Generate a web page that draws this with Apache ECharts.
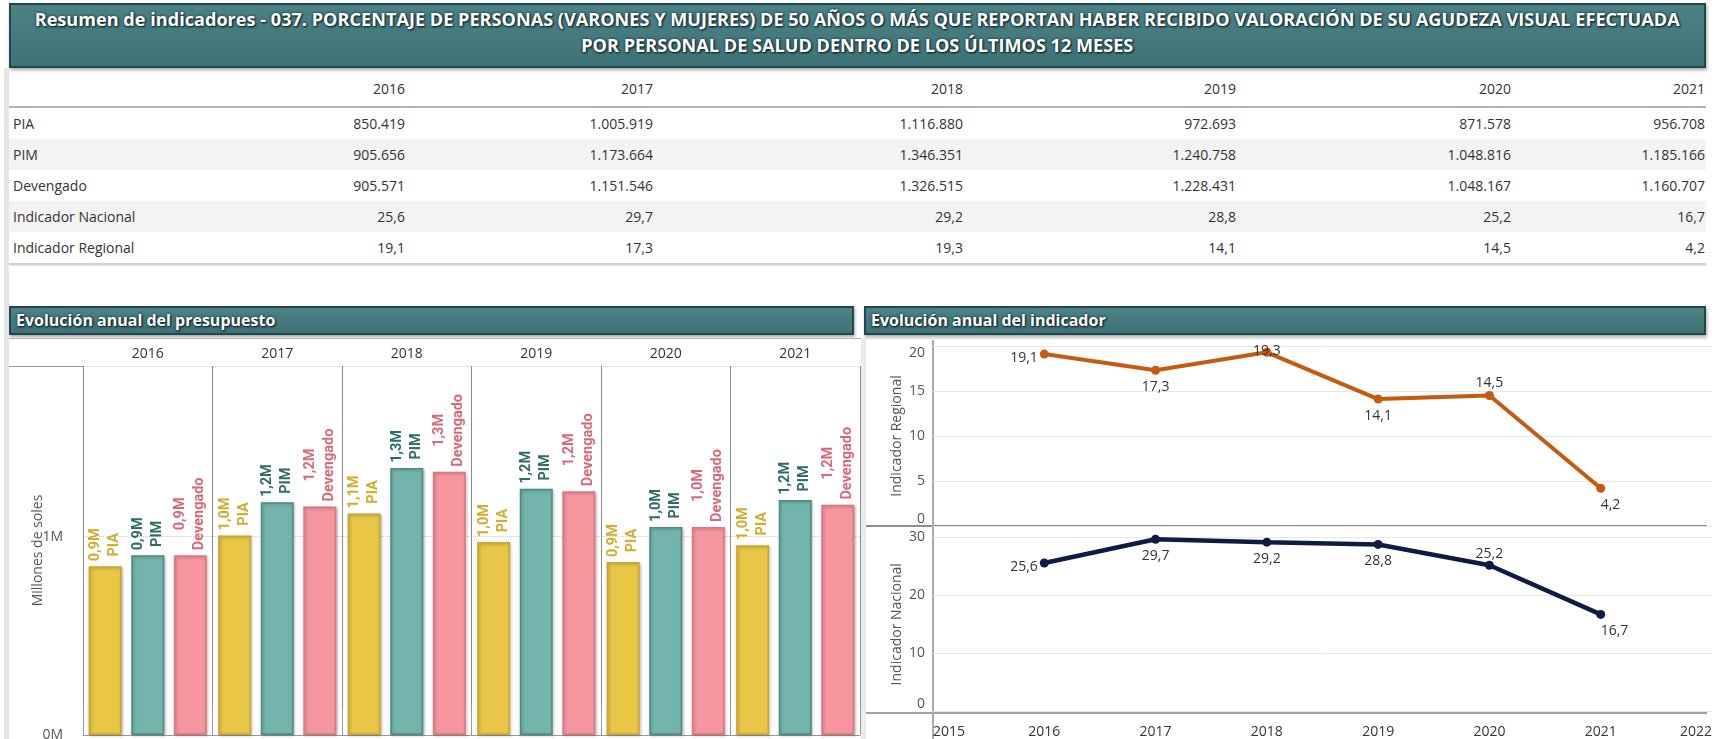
<!DOCTYPE html>
<html>
<head>
<meta charset="utf-8">
<script src="https://cdn.jsdelivr.net/npm/echarts@6/dist/echarts.min.js"></script>
<style>
html, body { margin: 0; padding: 0; width: 1715px; height: 739px; overflow: hidden; background: #fff; font-family: "Open Sans", sans-serif; color: #333; }
.banner { position: absolute; box-sizing: border-box; background: linear-gradient(#4c8186, #3d7277); border: 2px solid #22474a; box-shadow: 1px 2px 3px rgba(0,0,0,.35); color: #fff; font-family: "Open Sans", sans-serif; font-weight: bold; text-shadow: 1px 1px 2px #0b1d1f, 0 0 3px #15302f; }
#title { left: 9px; top: 3px; width: 1697px; height: 65px; text-align: center; font-size: 18px; line-height: 26px; padding-top: 1px; }
#title span { display: inline-block; white-space: nowrap; }
.sub { top: 306px; height: 29px; font-size: 16px; line-height: 24px; padding-left: 5px; }
#b1 { left: 9px; width: 845px; }
#b2 { left: 864px; width: 842px; }
.cell { position: absolute; font-size: 14px; white-space: nowrap; }
.row { position: absolute; left: 9px; width: 1697px; }
.line { position: absolute; }
#bar { position: absolute; left: 9px; top: 338px; width: 853px; height: 404px; }
#line { position: absolute; left: 866px; top: 338px; width: 849px; height: 401px; }
</style>
</head>
<body>
<div class="banner" id="title"><span id="t1">Resumen de indicadores - 037. PORCENTAJE DE PERSONAS (VARONES Y MUJERES) DE 50 AÑOS O MÁS QUE REPORTAN HABER RECIBIDO VALORACIÓN DE SU AGUDEZA VISUAL EFECTUADA</span><br><span id="t2">POR PERSONAL DE SALUD DENTRO DE LOS ÚLTIMOS 12 MESES</span></div>
<div id="table"></div>
<div class="banner sub" id="b1">Evolución anual del presupuesto</div>
<div class="banner sub" id="b2">Evolución anual del indicador</div>

<div class="line" style="left:4px;top:68px;width:5px;height:671px;background:#e6e6e6"></div>
<div class="line" style="left:861px;top:338px;width:5px;height:401px;background:#ececec"></div>
<div class="line" style="left:9px;top:338px;width:852px;height:1px;background:#b5b5b5"></div>
<div class="line" style="left:9px;top:366px;width:74px;height:1px;background:#9a9a9a"></div>
<div class="line" style="left:866px;top:338px;width:841px;height:1px;background:#dcdcdc"></div>
<div class="line" style="left:866px;top:525px;width:841px;height:2px;background:#8e8e8e"></div>
<div class="line" style="left:866px;top:712px;width:841px;height:2px;background:#a3a3a3"></div>
<div class="line" style="left:932px;top:340px;width:2px;height:399px;background:#ababab"></div>

<div id="bar"></div>
<div id="line"></div>

<script>
const years = ["2016", "2017", "2018", "2019", "2020", "2021"];
const pia = [850419, 1005919, 1116880, 972693, 871578, 956708];
const pim = [905656, 1173664, 1346351, 1240758, 1048816, 1185166];
const devengado = [905571, 1151546, 1326515, 1228431, 1048167, 1160707];
const indicadorNacional = [25.6, 29.7, 29.2, 28.8, 25.2, 16.7];
const indicadorRegional = [19.1, 17.3, 19.3, 14.1, 14.5, 4.2];

const LABEL_FONT = 'Roboto, "Open Sans", sans-serif';

const miles = v => String(v).replace(/\B(?=(\d{3})+(?!\d))/g, ".");
const decimal = v => v.toFixed(1).replace(".", ",");
const millones = v => (v / 1e6).toFixed(1).replace(".", ",") + "M";

// ---- titulo ajustado al ancho
const t1 = document.getElementById("t1");
const scale = 1504 * 1715 / 1568 / t1.getBoundingClientRect().width;
document.querySelectorAll("#title span").forEach(s => {
	s.style.transform = `scaleX(${scale})`;
});

// ---- tabla
const table = document.getElementById("table");
const colRight = [405, 653, 963, 1236, 1511, 1705];
const rows = [
	{ label: "", values: years, fmt: v => v },
	{ label: "PIA", values: pia, fmt: miles },
	{ label: "PIM", values: pim, fmt: miles },
	{ label: "Devengado", values: devengado, fmt: miles },
	{ label: "Indicador Nacional", values: indicadorNacional, fmt: decimal },
	{ label: "Indicador Regional", values: indicadorRegional, fmt: decimal }
];
rows.forEach((row, i) => {
	const top = i === 0 ? 72 : 108 + (i - 1) * 31;
	const h = i === 0 ? 34 : 31;
	const bg = document.createElement("div");
	bg.className = "row";
	bg.style.top = top + "px";
	bg.style.height = h + "px";
	bg.style.background = i === 2 || i === 4 ? "#f3f3f3" : "#fff";
	table.appendChild(bg);
	const addCell = (text, css) => {
		const c = document.createElement("div");
		c.className = "cell";
		c.textContent = text;
		c.style.top = top + "px";
		c.style.lineHeight = h + "px";
		Object.assign(c.style, css);
		table.appendChild(c);
	};
	if (row.label) addCell(row.label, { left: "13px" });
	row.values.forEach((v, j) => {
		addCell(row.fmt(v), { right: 1715 - colRight[j] + "px" });
	});
});
const hdrLine = document.createElement("div");
hdrLine.className = "line";
Object.assign(hdrLine.style, { left: "9px", top: "106px", width: "1697px", height: "2px", background: "#b3b3b3" });
table.appendChild(hdrLine);
const botLine = document.createElement("div");
botLine.className = "line";
Object.assign(botLine.style, { left: "9px", top: "263px", width: "1697px", height: "2px", background: "#cfcfcf", boxShadow: "0 1px 2px rgba(0,0,0,.12)" });
table.appendChild(botLine);

// ---- barras
const barStyles = [
	{ name: "PIA", data: pia, color: "#E9C646", border: "#C9A630", text: "#D3AC2E" },
	{ name: "PIM", data: pim, color: "#73B5AC", border: "#4A8C84", text: "#2C6D66" },
	{ name: "Devengado", data: devengado, color: "#F6969F", border: "#D97883", text: "#D9687A" }
];
const ctx = document.createElement("canvas").getContext("2d");
ctx.font = `bold 14.5px ${LABEL_FONT}`;
const textWidth = s => Math.ceil(ctx.measureText(s).width);

const barChart = echarts.init(document.getElementById("bar"));
barChart.setOption({
	animation: false,
	textStyle: { fontFamily: '"Open Sans", sans-serif' },
	grid: { left: 74, right: 2, top: 28, bottom: 2 },
	xAxis: {
		type: "category",
		data: years,
		position: "top",
		axisLine: { lineStyle: { color: "#9a9a9a" } },
		axisTick: { show: true, length: 28, lineStyle: { color: "#9a9a9a" } },
		axisLabel: { color: "#333", fontSize: 14, margin: 5 },
		splitLine: { show: true, lineStyle: { color: "#8a8a8a" } }
	},
	yAxis: {
		type: "value",
		min: 0,
		max: 1.86e6,
		interval: 1e6,
		axisLine: { show: false },
		axisTick: { show: false },
		axisLabel: { color: "#555", fontSize: 14, margin: 20, showMaxLabel: false, formatter: v => v / 1e6 + "M" },
		splitLine: { lineStyle: { color: "#cfcfcf", type: "dotted" } },
		name: "Millones de soles",
		nameLocation: "middle",
		nameMoveOverlap: false,
		nameGap: 38,
		nameTextStyle: { color: "#555", fontSize: 14 }
	},
	series: barStyles.map(s => {
		const w = Math.max(textWidth(s.name), ...s.data.map(v => textWidth(millones(v))));
		const rich = { fontSize: 14.5, fontWeight: "bold", fontFamily: LABEL_FONT, color: s.text, width: w, align: "center", lineHeight: 19 };
		return {
			type: "bar",
			name: s.name,
			data: s.data,
			barWidth: 33,
			barGap: "29%",
			itemStyle: { color: s.color, borderColor: s.border, borderWidth: 1.5, shadowColor: "rgba(0,0,0,0.25)", shadowBlur: 3, shadowOffsetX: 1, shadowOffsetY: 1 },
			label: {
				show: true,
				position: "top",
				rotate: 90,
				align: "left",
				verticalAlign: "middle",
				distance: 5,
				formatter: p => `{v|${millones(p.value)}}\n{n|${p.seriesName}}`,
				rich: { v: rich, n: rich }
			}
		};
	})
});

// ---- lineas
const regionalLabels = [
	{ position: "left", distance: 2, offset: [0, 4] },
	{ position: "bottom" },
	{ position: "inside", offset: [0, -1] },
	{ position: "bottom" },
	{ position: "top", distance: 1 },
	{ position: "bottom", align: "left" }
];
const nacionalLabels = [
	{ position: "left", distance: 2, offset: [0, 4] },
	{ position: "bottom" },
	{ position: "bottom" },
	{ position: "bottom" },
	{ position: "top", distance: 0 },
	{ position: "bottom", align: "left" }
];
const points = (values, labels) => values.map((v, i) => ({ value: [Number(years[i]), v], label: labels[i] }));

const yAxisBase = {
	axisLine: { show: false },
	axisTick: { show: false },
	splitLine: { lineStyle: { color: "#e6e6e6" } },
	nameLocation: "middle",
	nameMoveOverlap: false,
	nameGap: 29,
	nameTextStyle: { color: "#555", fontSize: 14 }
};

const lineChart = echarts.init(document.getElementById("line"));
lineChart.setOption({
	animation: false,
	textStyle: { fontFamily: '"Open Sans", sans-serif' },
	grid: [
		{ left: 67, top: 8, width: 779, height: 180 },
		{ left: 67, top: 199.5, width: 779, height: 175.5 }
	],
	xAxis: [
		{ gridIndex: 0, type: "value", min: 2015, max: 2022, interval: 1, show: false },
		{
			gridIndex: 1, type: "value", min: 2015, max: 2022, interval: 1,
			axisLine: { show: false }, axisTick: { show: false }, splitLine: { show: false },
			axisLabel: { color: "#333", fontSize: 14, margin: 14, alignMinLabel: "left", alignMaxLabel: "right", formatter: v => String(v) }
		}
	],
	yAxis: [
		{
			...yAxisBase, gridIndex: 0, type: "value", min: 0, max: 20, interval: 5, name: "Indicador Regional",
			axisLabel: { color: "#555", fontSize: 14, margin: 8, verticalAlignMinLabel: "bottom", verticalAlignMaxLabel: "top" }
		},
		{
			...yAxisBase, gridIndex: 1, type: "value", min: 0, max: 30, interval: 10, name: "Indicador Nacional",
			axisLabel: { color: "#555", fontSize: 14, margin: 8, verticalAlignMinLabel: "bottom" }
		}
	],
	series: [
		{
			type: "line",
			name: "Indicador Regional",
			xAxisIndex: 0,
			yAxisIndex: 0,
			data: points(indicadorRegional, regionalLabels),
			symbol: "circle",
			symbolSize: 9,
			lineStyle: { color: "#C55A11", width: 4 },
			itemStyle: { color: "#C55A11" },
			label: { show: true, color: "#333", fontSize: 14, formatter: p => decimal(p.value[1]) }
		},
		{
			type: "line",
			name: "Indicador Nacional",
			xAxisIndex: 1,
			yAxisIndex: 1,
			data: points(indicadorNacional, nacionalLabels),
			symbol: "circle",
			symbolSize: 9,
			lineStyle: { color: "#0E1B45", width: 4.5 },
			itemStyle: { color: "#0E1B45" },
			label: { show: true, color: "#333", fontSize: 14, formatter: p => decimal(p.value[1]) }
		}
	]
});
</script>
</body>
</html>
